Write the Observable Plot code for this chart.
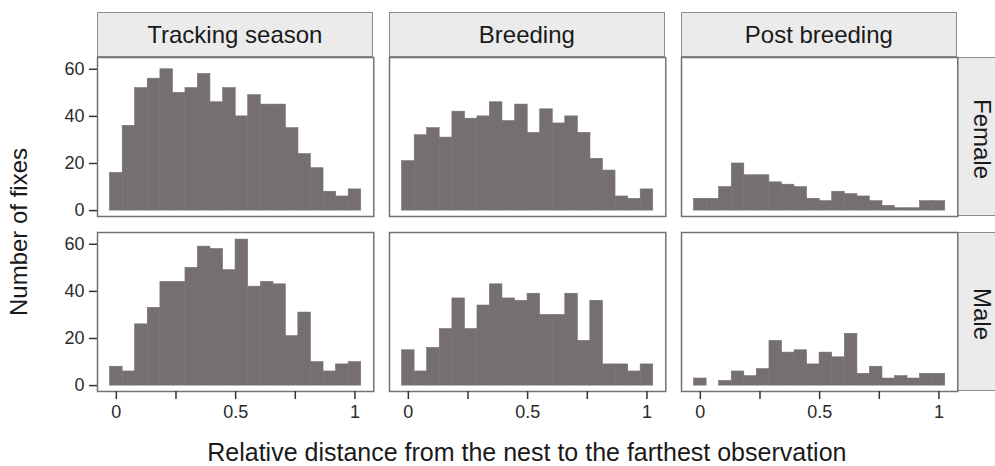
<!DOCTYPE html>
<html>
<head>
<meta charset="utf-8">
<script src="https://cdn.jsdelivr.net/npm/d3@7"></script>
<script src="https://cdn.jsdelivr.net/npm/@observablehq/plot@0.6"></script>
<style>
  html, body { margin: 0; padding: 0; background: #fff; }
  #root { position: relative; width: 995px; height: 466px; overflow: hidden; font-family: "Liberation Sans", Arial, Helvetica, sans-serif; color: #1a1a1a; }
  .strip { position: absolute; background: #ebebeb; border: 1px solid #8c8c8c; box-sizing: border-box; }
  .label { position: absolute; white-space: nowrap; line-height: 1; }
  .panel { position: absolute; }
</style>
</head>
<body>
<div id="root"></div>
<script>
// ---- data ----
const seasons = ["Tracking season", "Breeding", "Post breeding"];
const sexes = ["Female", "Male"];
const binCenters = [0, 0.053, 0.105, 0.158, 0.211, 0.263, 0.316, 0.368, 0.421, 0.474,
                    0.526, 0.579, 0.632, 0.684, 0.737, 0.789, 0.842, 0.895, 0.947, 1];
const binWidth = 0.0526;

const femaleTracking = [16, 36, 52, 56, 60, 50, 52, 58, 46, 52, 40, 49, 45, 45, 35, 24, 18, 8, 6, 9];
const femaleBreeding = [21, 32, 35, 31, 42, 39, 40, 46, 38, 45, 33, 43, 37, 40, 33, 22, 17, 6, 5, 9];
const femalePost     = [5, 5, 10, 20, 15, 15, 12, 11, 10, 5, 4, 8, 7, 6, 4, 2, 1, 1, 4, 4];
const maleTracking   = [8, 6, 26, 33, 44, 44, 50, 59, 58, 49, 62, 42, 44, 43, 21, 31, 10, 6, 9, 10];
const maleBreeding   = [15, 6, 16, 24, 37, 24, 34, 43, 37, 36, 39, 30, 30, 39, 19, 36, 9, 9, 6, 9];
const malePost       = [3, 0, 2, 6, 4, 7, 19, 14, 15, 9, 14, 12, 22, 5, 8, 3, 4, 3, 5, 5];

const xTicks = [0, 0.25, 0.5, 0.75, 1];
const xTickLabels = {0: "0", 0.5: "0.5", 1: "1"};
const yTicks = [0, 20, 40, 60];

const xTitle = "Relative distance from the nest to the farthest observation";
const yTitle = "Number of fixes";

const counts = {
  "Female": [femaleTracking, femaleBreeding, femalePost],
  "Male": [maleTracking, maleBreeding, malePost]
};

// ---- layout ----
const root = document.getElementById("root");
const colX = [96.7, 388.7, 680.7];
const panelW = 276.3;
const rowY = [57.3, 232.3];
const panelH = 159;
const stripTop = 11.5;
const ML = 60, MB = 40;
const barFill = "#75706f";
const frameStroke = "#737373";

function addDiv(cls, css, text) {
  const d = document.createElement("div");
  d.className = cls;
  Object.assign(d.style, css);
  if (text != null) d.textContent = text;
  root.appendChild(d);
  return d;
}

// top strips
seasons.forEach((s, j) => {
  addDiv("strip", {left: colX[j] + "px", top: stripTop + "px", width: panelW + "px", height: (rowY[0] - stripTop) + "px"});
  addDiv("label", {left: (colX[j] + panelW / 2) + "px", top: ((stripTop + rowY[0]) / 2 + 1) + "px",
    transform: "translate(-50%,-50%)", fontSize: "24px", color: "#1a1a1a"}, s);
});
// right strips
sexes.forEach((s, i) => {
  addDiv("strip", {left: (colX[2] + panelW) + "px", top: rowY[i] + "px", width: "46px", height: panelH + "px"});
  addDiv("label", {left: "982px", top: (rowY[i] + panelH / 2 + 2) + "px",
    transform: "translate(-50%,-50%) rotate(90deg)", fontSize: "24px", color: "#1a1a1a"}, s);
});

// panels
sexes.forEach((sex, i) => {
  seasons.forEach((season, j) => {
    const vals = counts[sex][j];
    const rows = binCenters.map((c, k) => ({x1: c - binWidth / 2, x2: c + binWidth / 2, n: vals[k]}));
    const leftCol = j === 0, bottomRow = i === 1;
    const svg = Plot.plot({
      width: ML + panelW,
      height: panelH + MB,
      marginLeft: ML, marginRight: 0, marginTop: 0, marginBottom: MB,
      style: {background: "transparent", fontFamily: "'Liberation Sans', Arial, sans-serif", fontSize: "18px", color: "#333333", overflow: "visible"},
      x: {domain: [-0.0789, 1.0789], axis: null},
      y: {domain: [-2.5, 65], axis: null},
      marks: [
        Plot.rect(rows, {x1: "x1", x2: "x2", y1: 0, y2: "n", fill: barFill, stroke: barFill, strokeWidth: 0.6}),
        Plot.frame({stroke: frameStroke, strokeWidth: 1.5}),
        leftCol ? Plot.axisY({ticks: yTicks, tickSize: 8, tickPadding: 5, label: null, strokeWidth: 1.5, stroke: "#333", fill: "#2b2b2b", fontSize: 18}) : null,
        bottomRow ? Plot.axisX({ticks: xTicks, tickSize: 8, tickPadding: 6, label: null, strokeWidth: 1.5, stroke: "#333", fill: "#2b2b2b", fontSize: 18,
          tickFormat: d => xTickLabels[d] ?? ""}) : null
      ]
    });
    svg.classList.add("panel");
    svg.style.left = (colX[j] - ML) + "px";
    svg.style.top = rowY[i] + "px";
    svg.style.position = "absolute";
    root.appendChild(svg);
  });
});

// axis titles
addDiv("label", {left: "19px", top: "232px",
  transform: "translate(-50%,-50%) rotate(-90deg)", fontSize: "24px"}, yTitle);
addDiv("label", {left: (colX[0] + (colX[2] + panelW - colX[0]) / 2) + "px", top: "452px",
  transform: "translate(-50%,-50%)", fontSize: "25px"}, xTitle);
</script>
</body>
</html>
